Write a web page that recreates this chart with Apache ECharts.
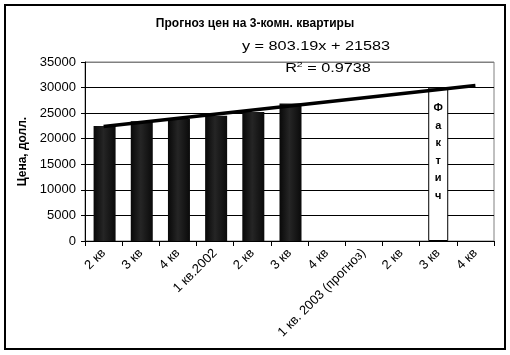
<!DOCTYPE html>
<html><head><meta charset="utf-8">
<script src="https://cdn.jsdelivr.net/npm/echarts@6/dist/echarts.min.js"></script>
<style>html,body{margin:0;padding:0;background:#fff}#c{width:510px;height:355px}</style>
</head><body><div id="c"></div>
<script>
const categories = ['2 кв', '3 кв', '4 кв', '1 кв.2002', '2 кв', '3 кв', '4 кв', '1 кв. 2003 (прогноз)', '2 кв', '3 кв', '4 кв'];
const prices = [22500, 23400, 23900, 24500, 25200, 26900, null, null, null, null, null];
const factBox = [null, null, null, null, null, null, null, null, null, 30000, null];
const trend = [22386, null, null, null, null, null, null, null, null, null, 30418];
const yTicks = [0, 5000, 10000, 15000, 20000, 25000, 30000, 35000];
const titleText = 'Прогноз цен на 3-комн. квартиры';
const yName = 'Цена, долл.';
const equation = 'y = 803.19x + 21583';
const r2 = '0.9738';
const factLabel = 'Фактич';

const chart = echarts.init(document.getElementById('c'), null, {renderer: 'canvas'});
const FONT = 'Arial, "Liberation Sans", sans-serif';
chart.setOption({
  animation: false,
  backgroundColor: '#fff',
  title: {
    text: titleText, left: 'center', top: 13,
    textStyle: {fontFamily: FONT, fontSize: 12, fontWeight: 'bold', color: '#000'}
  },
  graphic: [
    {type: 'rect', shape: {x: 5, y: 5, width: 500, height: 344}, style: {fill: 'none', stroke: '#000', lineWidth: 2}, z: 100},
    {type: 'text', x: 316, y: 47, scaleX: 1.3, z: 50,
      style: {text: equation, fontFamily: FONT, fontSize: 12.5, fill: '#000', align: 'center', verticalAlign: 'middle'}},
    {type: 'text', x: 328, y: 69, scaleX: 1.3, z: 50,
      style: {text: 'R{s|2} = ' + r2, fontFamily: FONT, fontSize: 12.5, fill: '#000', align: 'center', verticalAlign: 'middle',
        rich: {s: {fontSize: 8, verticalAlign: 'top', padding: [0, 0, 8, 0], fontFamily: FONT}}}}
  ],
  grid: {left: 85, right: 16, top: 62, bottom: 114, show: true, borderColor: '#808080', borderWidth: 1, backgroundColor: '#fff'},
  xAxis: {
    type: 'category', data: categories,
    axisLine: {lineStyle: {color: '#000', width: 1}},
    axisTick: {show: true, length: 5, lineStyle: {color: '#000'}},
    axisLabel: {interval: 0, rotate: 45, fontFamily: FONT, fontSize: 13, color: '#000', margin: 10},
    splitLine: {show: false}
  },
  yAxis: {
    type: 'value', min: 0, max: 35000, interval: 5000,
    name: yName, nameLocation: 'middle', nameGap: 46, nameRotate: 90,
    nameTextStyle: {fontFamily: FONT, fontSize: 12, fontWeight: 'bold', color: '#000'},
    axisLine: {show: true, lineStyle: {color: '#000', width: 1}},
    axisTick: {show: true, length: 4, lineStyle: {color: '#000'}},
    axisLabel: {fontFamily: FONT, fontSize: 13, color: '#000', margin: 9,
      formatter: v => yTicks.includes(v) ? String(v) : ''},
    splitLine: {lineStyle: {color: ['#000', '#000', '#000', '#000', '#000', '#000', '#000', '#808080'], width: 1}}
  },
  series: [
    {
      type: 'bar', data: prices, barWidth: 22, barGap: '-100%',
      itemStyle: {
        color: new echarts.graphic.LinearGradient(0, 0, 1, 0, [
          {offset: 0, color: '#080808'}, {offset: 0.45, color: '#252525'}, {offset: 1, color: '#0a0a0a'}
        ])
      }
    },
    {
      type: 'bar', data: factBox, barWidth: 20, barGap: '-100%',
      itemStyle: {color: '#fff', borderColor: '#000', borderWidth: 1},
      label: {show: true, position: 'insideTop', distance: 12,
        formatter: () => factLabel.split('').join('\n'),
        fontFamily: FONT, fontSize: 11, fontWeight: 'bold', color: '#000', lineHeight: 17.5}
    },
    {
      type: 'line', data: trend, connectNulls: true, symbol: 'none', z: 10,
      lineStyle: {color: '#000', width: 3.5}
    }
  ]
});
</script></body></html>
